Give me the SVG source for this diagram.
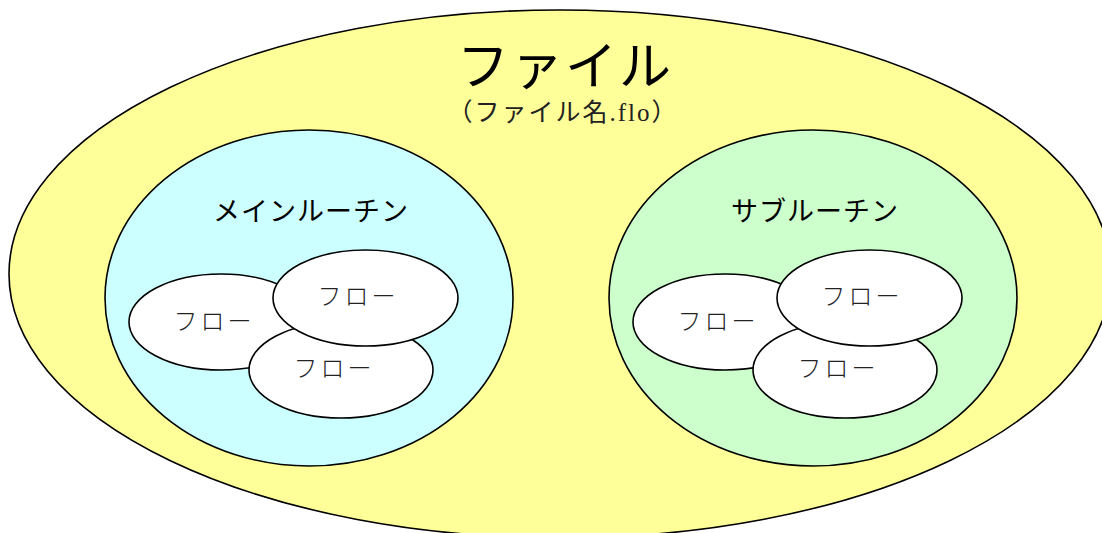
<svg xmlns="http://www.w3.org/2000/svg" width="1102" height="533" viewBox="0 0 1102 533">
<style>
.ol{stroke:#000;stroke-width:1.6}
.flow{fill:#fff;stroke:#000;stroke-width:1.6}
text{font-family:"Liberation Serif","Noto Sans CJK JP",serif;fill:#000;text-anchor:middle}
.ft{font-size:24px;font-weight:300;fill:#222;letter-spacing:3px}
.rt{font-size:27px;letter-spacing:1px}
</style>
<rect width="1102" height="533" fill="#fff"/>
<g id="file">
<ellipse class="ol" cx="560" cy="274" rx="551" ry="264" fill="#ffff99"/>
<text x="565" y="85" style="font-size:52px;letter-spacing:2px">ファイル</text>
<text x="563" y="121" style="font-size:25px;fill:#222;letter-spacing:2px">（ファイル名.flo）</text>
</g>
<g id="main">
<ellipse class="ol" cx="309" cy="298" rx="204" ry="168" fill="#ccffff"/>
<text class="rt" x="311" y="221">メインルーチン</text>
</g>
<g id="main-flow1"><ellipse class="flow" cx="221" cy="322" rx="92" ry="48"/><text class="ft" x="214" y="330">フロー</text></g>
<g id="main-flow3"><ellipse class="flow" cx="341" cy="370" rx="92" ry="48"/><text class="ft" x="334" y="377">フロー</text></g>
<g id="main-flow2"><ellipse class="flow" cx="365.5" cy="298" rx="92.5" ry="48"/><text class="ft" x="358" y="305">フロー</text></g>
<g id="sub">
<ellipse class="ol" cx="813" cy="298" rx="204" ry="168" fill="#ccffcc"/>
<text class="rt" x="815" y="221">サブルーチン</text>
</g>
<g id="sub-flow1"><ellipse class="flow" cx="725" cy="322" rx="92" ry="48"/><text class="ft" x="718" y="330">フロー</text></g>
<g id="sub-flow3"><ellipse class="flow" cx="845" cy="370" rx="92" ry="48"/><text class="ft" x="838" y="377">フロー</text></g>
<g id="sub-flow2"><ellipse class="flow" cx="869.5" cy="298" rx="92.5" ry="48"/><text class="ft" x="862" y="305">フロー</text></g>
<g id="connectors"></g>
</svg>
